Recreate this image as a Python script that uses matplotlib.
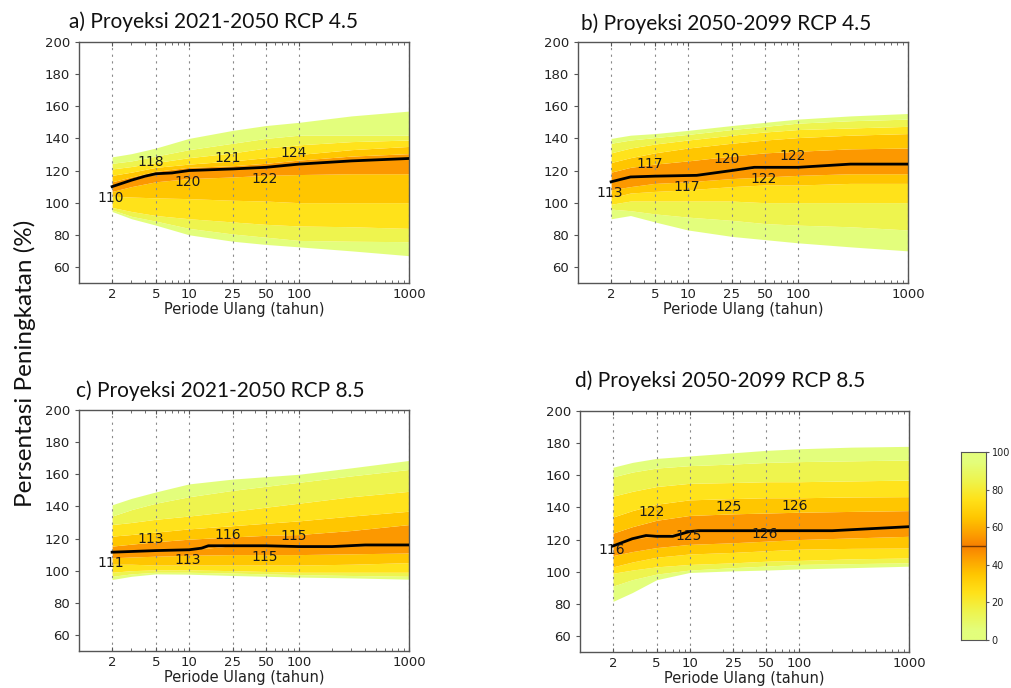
import numpy as np
import matplotlib
matplotlib.use('Agg')
from matplotlib import pyplot as plt
from matplotlib.colors import LinearSegmentedColormap
from matplotlib.ticker import NullFormatter

rp = [2, 3, 5, 10, 25, 50, 100, 300, 1000]
pct_levels = [0, 10, 20, 30, 40, 50, 60, 70, 80, 90, 100]

# a) 2021-2050 RCP 4.5, rows = p0 ... p100
pct_a = [
    [94.5, 90, 86, 80, 76, 74, 72.5, 70, 67],
    [95.5, 91.5, 88.5, 84, 80.5, 78.5, 76.5, 76, 75.7],
    [97, 94.5, 92, 90, 88, 86.5, 85.5, 85, 84],
    [104, 103.5, 103, 102.5, 101.5, 101, 100, 100, 100],
    [107, 110, 113, 115, 116, 117, 117.5, 118, 118],
    [110, 114, 118, 120, 121, 122, 124, 126, 127.5],
    [113, 116, 119.5, 122, 123, 124.5, 126.5, 129, 130.5],
    [117, 119, 122, 124, 126, 128, 130, 133, 135],
    [121, 122.5, 125, 128, 131, 134, 136, 138, 139],
    [124.5, 126, 129, 133, 137, 140, 142, 142, 142],
    [128.5, 130.5, 134, 140, 145, 148, 150, 154, 157],
]
# b) 2050-2099 RCP 4.5
pct_b = [
    [90, 92, 88, 83, 79, 77, 75, 72.5, 70],
    [96, 95, 93, 91, 89, 87, 86, 85, 83],
    [99, 101, 101, 101, 101, 100, 100, 100, 100],
    [103, 106, 107, 108, 110, 111, 111, 112, 112],
    [108, 110, 112, 113, 115, 116, 117, 118, 118],
    [113, 116, 117, 117, 120, 122, 122, 124, 124],
    [119, 122, 124, 126, 129, 131, 132, 133.5, 134],
    [125, 128, 131, 134, 137, 139, 140.5, 142, 143],
    [131, 134, 136.5, 139, 142, 144, 145.5, 146.5, 147.5],
    [137, 139, 140.5, 142.5, 145.5, 147.5, 149.5, 151, 152],
    [140, 142, 143, 145, 148, 150, 152, 154, 155.5],
]
# c) 2021-2050 RCP 8.5
pct_c = [
    [94.5, 96.5, 98, 97.8, 97, 96.5, 96, 95.5, 94.7],
    [96.5, 98, 99, 99, 98.5, 98, 97.5, 97, 96.5],
    [99, 100, 100.5, 100.5, 100, 99.5, 99, 99, 99],
    [104, 104, 103.5, 103.5, 103.5, 103.5, 103.5, 104, 105],
    [108, 108.5, 109, 109.6, 110, 110, 110, 110.5, 111],
    [111.5, 112, 112.5, 113, 115.5, 115.5, 115, 115.5, 116],
    [115.3, 116.5, 118, 119.6, 121, 122, 122.5, 125, 128.7],
    [121.5, 122.5, 124, 126, 128, 129.5, 131, 134, 137],
    [128.7, 130, 132, 134, 137, 139.5, 142, 146, 149.4],
    [134, 138, 142, 146, 150, 152.5, 155, 159, 163],
    [141, 145, 149, 154, 157, 158.5, 160, 164, 168.6],
]
# d) 2050-2099 RCP 8.5
pct_d = [
    [81.5, 87, 95, 99.5, 100.5, 101, 101.7, 102.5, 103.4],
    [91, 95, 98.5, 101, 102.5, 103.5, 104.5, 105, 105.5],
    [99, 101, 103, 104.5, 105.5, 106.5, 107, 108, 108.5],
    [103, 106, 109, 111, 112, 113, 114, 114.5, 114.7],
    [110, 112.5, 115, 117, 118, 119, 120, 121, 122],
    [116, 120.5, 122, 125, 125.5, 125.5, 125.5, 126, 128],
    [124, 128, 132, 135, 136, 136.5, 137, 137.5, 138],
    [134, 138, 142, 144.7, 145.5, 146, 146, 146.5, 146.7],
    [147, 150, 153, 155, 155.5, 156, 156, 156.5, 157],
    [159, 162, 164.5, 166, 167, 168, 168.5, 169, 169.5],
    [165, 168, 170.5, 172, 174, 175.5, 176.5, 177.5, 178],
]

# ensemble median lines
med_x_a = [2, 3, 4, 5, 7, 10, 25, 50, 100, 300, 1000]
med_y_a = [110, 114, 116.5, 118, 118.5, 120, 121, 122, 124, 126, 127.5]
med_x_b = [2, 3, 5, 12, 25, 40, 100, 300, 1000]
med_y_b = [113, 116, 116.5, 117, 120, 122, 122, 124, 124]
med_x_c = [2, 5, 10, 13, 15, 25, 50, 100, 200, 400, 1000]
med_y_c = [111.5, 112.5, 113, 114, 115.5, 115.5, 115.5, 115, 115, 116, 116]
med_x_d = [2, 3, 4, 5, 7, 10, 12, 100, 200, 1000]
med_y_d = [116, 120.5, 122.5, 122, 122, 125, 125.5, 125.5, 125.5, 128]

label_rp = [2, 5, 10, 25, 50, 100]
labels_a = [110, 118, 120, 121, 122, 124]
labels_b = [113, 117, 117, 120, 122, 122]
labels_c = [111, 113, 113, 116, 115, 115]
labels_d = [116, 122, 125, 125, 126, 126]

titles = ['a) Proyeksi 2021-2050 RCP 4.5', 'b) Proyeksi 2050-2099 RCP 4.5',
          'c) Proyeksi 2021-2050 RCP 8.5', 'd) Proyeksi 2050-2099 RCP 8.5']

xticks = [2, 5, 10, 25, 50, 100, 1000]
yticks = [60, 80, 100, 120, 140, 160, 180, 200]

half = ['#e3fe7c', '#e3fe7c', '#eef44e', '#ffe21a', '#ffc600', '#fc9800', '#f78000']
half_pos = [0, 5, 15, 25, 35, 45, 50]
nodes = [(p / 100, c) for p, c in zip(half_pos, half)]
nodes += [(1 - p / 100, c) for p, c in zip(half_pos[::-1][1:], half[::-1][1:])]
cmap = LinearSegmentedColormap.from_list('fan', nodes)

W, H = 1011, 688
fig = plt.figure(figsize=(W / 100, H / 100), dpi=100)

# axes boxes in pixels: left, top, right, bottom
boxes = [(79, 42, 409, 283), (578, 42, 908, 283), (79, 410, 409, 651), (580, 411, 909, 652)]
title_pos = [(69, 28), (581, 30), (76, 397), (575, 387)]
offsets = [(-7, 7), (-7, 7), (-6.5, 6.5), (-2.5, 15)]

panels = [
    (pct_a, med_x_a, med_y_a, labels_a),
    (pct_b, med_x_b, med_y_b, labels_b),
    (pct_c, med_x_c, med_y_c, labels_c),
    (pct_d, med_x_d, med_y_d, labels_d),
]

for i, (pct, mx, my, labs) in enumerate(panels):
    l, t, r, b = boxes[i]
    ax = fig.add_axes([l / W, 1 - b / H, (r - l) / W, (b - t) / H])
    pct = np.array(pct)
    for k in range(len(pct_levels) - 1):
        mid = (pct_levels[k] + pct_levels[k + 1]) / 2
        ax.fill_between(rp, pct[k], pct[k + 1], color=cmap(mid / 100), lw=0, zorder=1)
    ax.plot(mx, my, color='black', lw=2, zorder=3)

    lo, hi = offsets[i]
    for j, (x, v) in enumerate(zip(label_rp, labs)):
        if j % 2 == 0:
            ax.text(x * 0.97, v + lo, str(v), ha='center', va='center', fontsize=10, color='#1a1a1a', zorder=4)
        else:
            ax.text(x * 0.9, v + hi, str(v), ha='center', va='center', fontsize=10, color='#1a1a1a', zorder=4)

    ax.set_xscale('log')
    ax.set_xlim(1, 1000)
    ax.set_ylim(50, 200)
    ax.set_xticks(xticks)
    ax.set_xticklabels([str(x) for x in xticks])
    ax.xaxis.set_minor_formatter(NullFormatter())
    ax.set_yticks(yticks)
    ax.grid(axis='x', which='major', ls=(0, (2, 4)), color='#8a8a8a', lw=0.8)
    ax.tick_params(axis='x', which='both', direction='in', top=True, labelsize=9.5, colors='#555555', labelcolor='#222222')
    ax.tick_params(axis='x', which='major', length=3)
    ax.tick_params(axis='x', which='minor', length=2)
    ax.tick_params(axis='y', direction='out', length=3, labelsize=9.5, colors='#555555', labelcolor='#222222')
    for s in ax.spines.values():
        s.set_color('#555555')
        s.set_linewidth(1.0)
    ax.set_xlabel('Periode Ulang (tahun)', fontsize=10.5, color='#222222', labelpad=1)

    tx, ty = title_pos[i]
    fig.text(tx / W, 1 - ty / H, titles[i], fontsize=15, family=['Lato', 'DejaVu Sans'],
             ha='left', va='baseline', color='#111111')

fig.text(25 / W, 1 - 363 / H, 'Persentasi Peningkatan (%)', rotation=90, fontsize=17.5,
         family=['Lato', 'DejaVu Sans'], ha='center', va='center', color='#111111')

# colorbar
cax = fig.add_axes([961 / W, 1 - 640 / H, 25 / W, 188 / H])
grad = np.linspace(0, 100, 256).reshape(-1, 1)
cax.imshow(grad, aspect='auto', cmap=cmap, origin='lower', extent=[0, 1, 0, 100])
cax.axhline(50, color='#7a3a00', lw=1)
cax.set_xticks([])
cax.yaxis.tick_right()
cax.set_yticks([0, 20, 40, 60, 80, 100])
cax.tick_params(axis='y', length=2.5, pad=1.5, labelsize=7, colors='#555555', labelcolor='#222222')
for s in cax.spines.values():
    s.set_color('#555555')

fig.savefig('out.png', dpi=100)
